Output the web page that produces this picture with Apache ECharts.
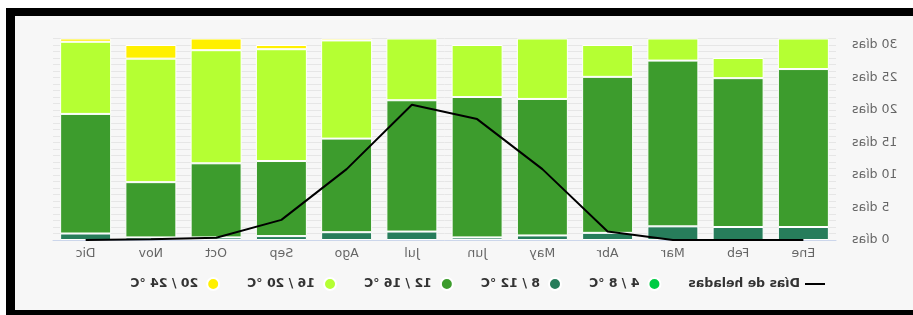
<!DOCTYPE html>
<html>
<head>
<meta charset="utf-8">
<script src="https://cdn.jsdelivr.net/npm/echarts@6/dist/echarts.min.js"></script>
<style>
  html, body { margin: 0; background: #fff; overflow: hidden; width: 913px; height: 315px; }
  #frame { position: absolute; left: 6px; top: 8px; width: 1000px; height: 320px; background: #000; }
  #main { position: absolute; left: 15px; top: 16px; width: 898px; height: 294px; transform: scaleX(-1); }
</style>
</head>
<body>
<div id="frame"></div>
<div id="main"></div>
<script>
var meses = ['Ene', 'Feb', 'Mar', 'Abr', 'May', 'Jun', 'Jul', 'Ago', 'Sep', 'Oct', 'Nov', 'Dic'];
var t4_8 = [0, 0, 0, 0, 0, 0, 0, 0, 0, 0, 0, 0];
var t8_12 = [2, 2, 2.1, 1.1, 0.7, 0.4, 1.3, 1.2, 0.6, 0.4, 0.4, 1];
var t12_16 = [24.3, 22.9, 25.5, 24, 21, 21.6, 20.2, 14.4, 11.55, 11.4, 8.5, 18.4];
var t16_20 = [4.7, 3.1, 3.4, 4.9, 9.3, 8, 9.5, 15.1, 17.2, 17.4, 19, 11.1];
var t20_24 = [0, 0, 0, 0, 0, 0, 0, 0.3, 0.65, 1.8, 2.1, 0.5];
var heladas = [0, 0, 0, 1.3, 10.9, 18.6, 20.8, 10.9, 3.1, 0.35, 0.1, 0];

var nombres = ['4 / 8 °C', '8 / 12 °C', '12 / 16 °C', '16 / 20 °C', '20 / 24 °C'];
var colores = ['#00cc44', '#277d5b', '#3d9c2d', '#b5ff33', '#fff000'];
var tramos = [t4_8, t8_12, t12_16, t16_20, t20_24];

var myChart = echarts.init(document.getElementById('main'));

var series = [{
    name: 'Días de heladas',
    type: 'line',
    data: heladas,
    symbol: 'none',
    z: 5,
    lineStyle: { color: '#000', width: 2 },
    itemStyle: { color: '#000' }
}];
tramos.forEach(function (d, i) {
    series.push({
        name: nombres[i],
        type: 'bar',
        stack: 'temp',
        barWidth: 51,
        data: d.map(function (v) { return v || null; }),
        itemStyle: { color: colores[i], borderColor: '#fff', borderWidth: 1 }
    });
});

option = {
    backgroundColor: '#f7f7f7',
    animation: false,
    grid: { left: 77, right: 38, top: 22.5, bottom: 70 },
    legend: {
        left: 83,
        top: 256,
        itemWidth: 20,
        itemHeight: 12,
        itemGap: 27,
        symbolKeepAspect: true,
        textStyle: { fontFamily: 'DejaVu Sans', fontSize: 12.5, fontWeight: 'bold', color: '#333' },
        data: [
            { name: 'Días de heladas', icon: 'path://M0,0L20,0L20,2L0,2Z' },
            { name: nombres[0], icon: 'circle' },
            { name: nombres[1], icon: 'circle' },
            { name: nombres[2], icon: 'circle' },
            { name: nombres[3], icon: 'circle' },
            { name: nombres[4], icon: 'circle' }
        ]
    },
    xAxis: {
        type: 'category',
        data: meses,
        axisLine: { lineStyle: { color: '#ccd6eb' } },
        axisTick: { show: false },
        axisLabel: { fontFamily: 'DejaVu Sans', fontSize: 12.5, color: '#666', margin: 7 }
    },
    yAxis: {
        type: 'value',
        min: 0,
        max: 31,
        interval: 1,
        axisLine: { show: false },
        axisTick: { show: false },
        splitLine: { lineStyle: { color: '#e6e6e6' } },
        axisLabel: {
            fontFamily: 'DejaVu Sans', fontSize: 12.5, color: '#666', margin: 16,
            formatter: function (v) { return v % 5 === 0 ? v + ' días' : ''; }
        }
    },
    series: series
};
myChart.setOption(option);
</script>
</body>
</html>
